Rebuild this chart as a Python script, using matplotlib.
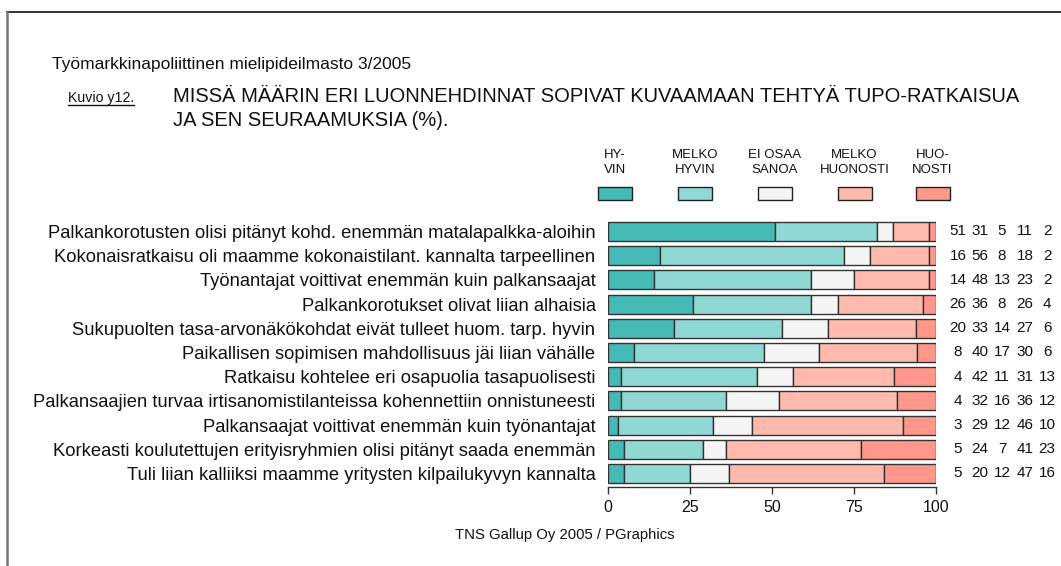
import matplotlib
matplotlib.use("Agg")
import matplotlib.pyplot as plt
import numpy as np
from matplotlib.patches import Rectangle
from matplotlib.lines import Line2D
from matplotlib.transforms import blended_transform_factory

plt.rcParams['font.family'] = ['Liberation Sans', 'DejaVu Sans']

# ---- data ----
categories = [
    "Palkankorotusten olisi pitänyt kohd. enemmän matalapalkka-aloihin",
    "Kokonaisratkaisu oli maamme kokonaistilant. kannalta tarpeellinen",
    "Työnantajat voittivat enemmän kuin palkansaajat",
    "Palkankorotukset olivat liian alhaisia",
    "Sukupuolten tasa-arvonäkökohdat eivät tulleet huom. tarp. hyvin",
    "Paikallisen sopimisen mahdollisuus jäi liian vähälle",
    "Ratkaisu kohtelee eri osapuolia tasapuolisesti",
    "Palkansaajien turvaa irtisanomistilanteissa kohennettiin onnistuneesti",
    "Palkansaajat voittivat enemmän kuin työnantajat",
    "Korkeasti koulutettujen erityisryhmien olisi pitänyt saada enemmän",
    "Tuli liian kalliiksi maamme yritysten kilpailukyvyn kannalta",
]
series_names = ["HY-\nVIN", "MELKO\nHYVIN", "EI OSAA\nSANOA", "MELKO\nHUONOSTI", "HUO-\nNOSTI"]
hyvin          = [51, 16, 14, 26, 20, 8, 4, 4, 3, 5, 5]
melko_hyvin    = [31, 56, 48, 36, 33, 40, 42, 32, 29, 24, 20]
ei_osaa        = [5, 8, 13, 8, 14, 17, 11, 16, 12, 7, 12]
melko_huonosti = [11, 18, 23, 26, 27, 30, 31, 36, 46, 41, 47]
huonosti       = [2, 2, 2, 4, 6, 6, 13, 12, 10, 23, 16]
x_ticks = [0, 25, 50, 75, 100]

colors = ["#45B9B5", "#8FD8D4", "#F4F4F4", "#FFB9AD", "#FF978A"]

series = np.array([hyvin, melko_hyvin, ei_osaa, melko_huonosti, huonosti], dtype=float)
totals = series.sum(axis=0)
pct = series / totals * 100

W, H = 1061, 566
fig = plt.figure(figsize=(W / 100, H / 100), dpi=100)

def fx(px):
    return px / W

def fy(py):
    return 1 - py / H

# frame lines (top and left)
fig.add_artist(Line2D([fx(7), 1], [fy(12), fy(12)], color="#222222", lw=1.3))
fig.add_artist(Line2D([fx(7), fx(7)], [fy(12), 0], color="#777777", lw=1.8))

# axes
ax_left, ax_right = 608, 936
ax_top, ax_bottom = 219.4, 487
ax = fig.add_axes([fx(ax_left), fy(ax_bottom), (ax_right - ax_left) / W, (ax_bottom - ax_top) / H])
y = np.arange(len(categories))
left = np.zeros(len(categories))
for i in range(len(series)):
    ax.barh(y, pct[i], left=left, height=0.79, color=colors[i], edgecolor="#333333", linewidth=1.0)
    left += pct[i]
ax.set_xlim(0, 100)
ax.set_ylim(len(categories) - 1 + 0.558, -0.5)
ax.set_yticks(y)
ax.set_yticklabels(categories, fontsize=13.2, color="#111111")
ax.tick_params(axis='y', length=0, pad=9)
ax.set_xticks(x_ticks)
ax.set_xticklabels([str(t) for t in x_ticks], fontsize=11.5, color="#111111")
ax.tick_params(axis='x', length=5, width=1, color="#333333", pad=4)
for s in ["top", "right", "left"]:
    ax.spines[s].set_visible(False)
ax.spines["bottom"].set_color("#333333")
ax.spines["bottom"].set_linewidth(1)

# values column
tr = blended_transform_factory(fig.transFigure, ax.transData)
col_x = [958, 980, 1002, 1025, 1047]
for r in range(len(categories)):
    for c in range(len(series)):
        ax.text(fx(col_x[c]), r, f"{int(series[c][r])}", transform=tr, ha="center", va="center",
                fontsize=11, color="#111111", clip_on=False)

# legend
box_centers = [615, 695, 775, 854.5, 932.5]
for name, col, cx in zip(series_names, colors, box_centers):
    fig.add_artist(Rectangle((fx(cx - 17), fy(200)), 34 / W, 13 / H, transform=fig.transFigure,
                             facecolor=col, edgecolor="#222222", linewidth=1.0))
    fig.text(fx(cx), fy(162.5), name, ha="center", va="center", fontsize=9.5,
             color="#111111", linespacing=1.3)

# titles
fig.text(fx(52), fy(65), "Työmarkkinapoliittinen mielipideilmasto 3/2005", ha="left", va="center",
         fontsize=12.5, color="#111111")
kuvio = fig.text(fx(68), fy(102), "Kuvio y12.", ha="left", va="baseline", fontsize=10.2,
                 color="#111111")
fig.text(fx(173), fy(102), "MISSÄ MÄÄRIN ERI LUONNEHDINNAT SOPIVAT KUVAAMAAN TEHTYÄ TUPO-RATKAISUA",
         ha="left", va="baseline", fontsize=14.5, color="#111111")
fig.text(fx(173), fy(126), "JA SEN SEURAAMUKSIA (%).",
         ha="left", va="baseline", fontsize=14.5, color="#111111")

# footer
fig.text(fx(675), fy(535), "TNS Gallup Oy 2005 / PGraphics", ha="right", va="center",
         fontsize=10.7, color="#111111")

fig.canvas.draw()
bb = kuvio.get_window_extent()
inv = fig.transFigure.inverted()
(x0, y0), (x1, y1) = inv.transform([(bb.x0, bb.y0), (bb.x1, bb.y1)])
fig.add_artist(Line2D([x0, x1], [fy(105), fy(105)], color="#111111", lw=1.0))

fig.savefig("out.png", dpi=100)
